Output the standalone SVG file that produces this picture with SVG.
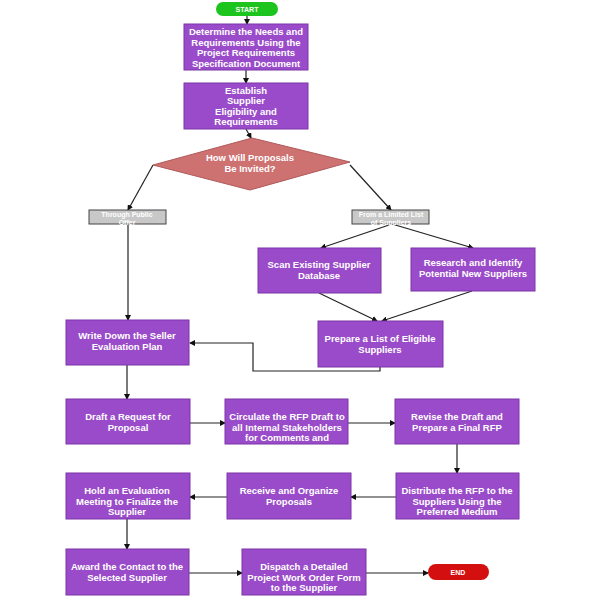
<svg xmlns="http://www.w3.org/2000/svg" width="600" height="600" viewBox="0 0 600 600">
<style>
.b{fill:#9a4bc9;stroke:#7d35a8;stroke-width:1}
.t{fill:#fff;font-family:"Liberation Sans",Arial,sans-serif;font-weight:bold;font-size:9.5px;text-anchor:middle}
.g{fill:#c8c8c8;stroke:#444;stroke-width:1}
.gt{fill:#fff;font-family:"Liberation Sans",Arial,sans-serif;font-weight:bold;font-size:7px;text-anchor:middle}
.c{fill:none;stroke:#222;stroke-width:1.2;marker-end:url(#a)}
</style>
<defs><marker id="a" markerWidth="6" markerHeight="6" refX="5" refY="3" orient="auto" markerUnits="userSpaceOnUse"><path d="M0,0L6,3L0,6z" fill="#111"/></marker></defs>
<rect width="600" height="600" fill="#fff"/>
<g id="connectors">
<path class="c" d="M247,16V24"/>
<path class="c" d="M246,70V83"/>
<path class="c" d="M246,129L251,138"/>
<path class="c" d="M153,165L128,210"/>
<path class="c" d="M350,165L391,210"/>
<path class="c" d="M392,224L321,248"/>
<path class="c" d="M392,224L473,248"/>
<path class="c" d="M128,224V320"/>
<path class="c" d="M319,293L377,321"/>
<path class="c" d="M472,291L382,321"/>
<path class="c" d="M380,367V371H253V343H190"/>
<path class="c" d="M127,365V399"/>
<path class="c" d="M190,423H225"/>
<path class="c" d="M348,423H395"/>
<path class="c" d="M457,444V473"/>
<path class="c" d="M396,497H351"/>
<path class="c" d="M227,497H190"/>
<path class="c" d="M127,519V549"/>
<path class="c" d="M189,573H242"/>
<path class="c" d="M366,573H428"/>
</g>
<g id="start"><rect x="216" y="2" width="62" height="14" rx="7" fill="#1ec41e"/><text class="gt" x="247" y="12" font-size="7.5">START</text></g>
<g id="n1"><rect class="b" x="184" y="24" width="124" height="46"/><text class="t" x="246" y="35">Determine the Needs and</text><text class="t" x="246" y="46">Requirements Using the</text><text class="t" x="246" y="56">Project Requirements</text><text class="t" x="246" y="67">Specification Document</text></g>
<g id="n2"><rect class="b" x="184" y="83" width="124" height="46"/><text class="t" x="246" y="94">Establish</text><text class="t" x="246" y="104">Supplier</text><text class="t" x="246" y="115">Eligibility and</text><text class="t" x="246" y="125">Requirements</text></g>
<g id="d"><path d="M153,165L252,138L350,162L250,190z" fill="#cd7171" stroke="#b05a5a"/><text class="t" x="250" y="161">How Will Proposals</text><text class="t" x="250" y="172">Be Invited?</text></g>
<g id="g1"><rect class="g" x="89" y="210" width="77" height="14"/><text class="gt" x="127" y="217">Through Public</text><text class="gt" x="127" y="225">Offer</text></g>
<g id="g2"><rect class="g" x="352" y="210" width="77" height="14"/><text class="gt" x="391" y="217">From a Limited List</text><text class="gt" x="391" y="225">of Suppliers</text></g>
<g id="scan"><rect class="b" x="258" y="248" width="123" height="45"/><text class="t" x="319" y="268">Scan Existing Supplier</text><text class="t" x="319" y="279">Database</text></g>
<g id="research"><rect class="b" x="411" y="248" width="124" height="43"/><text class="t" x="473" y="266">Research and Identify</text><text class="t" x="473" y="277">Potential New Suppliers</text></g>
<g id="write"><rect class="b" x="66" y="320" width="123" height="45"/><text class="t" x="127" y="339">Write Down the Seller</text><text class="t" x="127" y="350">Evaluation Plan</text></g>
<g id="prepare"><rect class="b" x="318" y="321" width="125" height="46"/><text class="t" x="380" y="342">Prepare a List of Eligible</text><text class="t" x="380" y="353">Suppliers</text></g>
<g id="draft"><rect class="b" x="66" y="399" width="124" height="45"/><text class="t" x="128" y="420">Draft a Request for</text><text class="t" x="128" y="431">Proposal</text></g>
<g id="circ"><rect class="b" x="225" y="399" width="123" height="45"/><text class="t" x="287" y="420">Circulate the RFP Draft to</text><text class="t" x="287" y="431">all Internal Stakeholders</text><text class="t" x="287" y="441">for Comments and</text></g>
<g id="revise"><rect class="b" x="395" y="399" width="124" height="45"/><text class="t" x="457" y="420">Revise the Draft and</text><text class="t" x="457" y="431">Prepare a Final RFP</text></g>
<g id="hold"><rect class="b" x="66" y="473" width="124" height="46"/><text class="t" x="127" y="494">Hold an Evaluation</text><text class="t" x="127" y="505">Meeting to Finalize the</text><text class="t" x="127" y="515">Supplier</text></g>
<g id="receive"><rect class="b" x="227" y="473" width="124" height="46"/><text class="t" x="289" y="494">Receive and Organize</text><text class="t" x="289" y="505">Proposals</text></g>
<g id="distribute"><rect class="b" x="396" y="473" width="123" height="46"/><text class="t" x="457" y="494">Distribute the RFP to the</text><text class="t" x="457" y="505">Suppliers Using the</text><text class="t" x="457" y="515">Preferred Medium</text></g>
<g id="award"><rect class="b" x="66" y="549" width="123" height="46"/><text class="t" x="127" y="570">Award the Contact to the</text><text class="t" x="127" y="581">Selected Supplier</text></g>
<g id="dispatch"><rect class="b" x="242" y="549" width="124" height="46"/><text class="t" x="304" y="570">Dispatch a Detailed</text><text class="t" x="304" y="581">Project Work Order Form</text><text class="t" x="304" y="591">to the Supplier</text></g>
<g id="end"><rect x="428" y="564" width="61" height="16" rx="8" fill="#d40f0f"/><text class="gt" x="458" y="575" font-size="7.5">END</text></g>
</svg>
